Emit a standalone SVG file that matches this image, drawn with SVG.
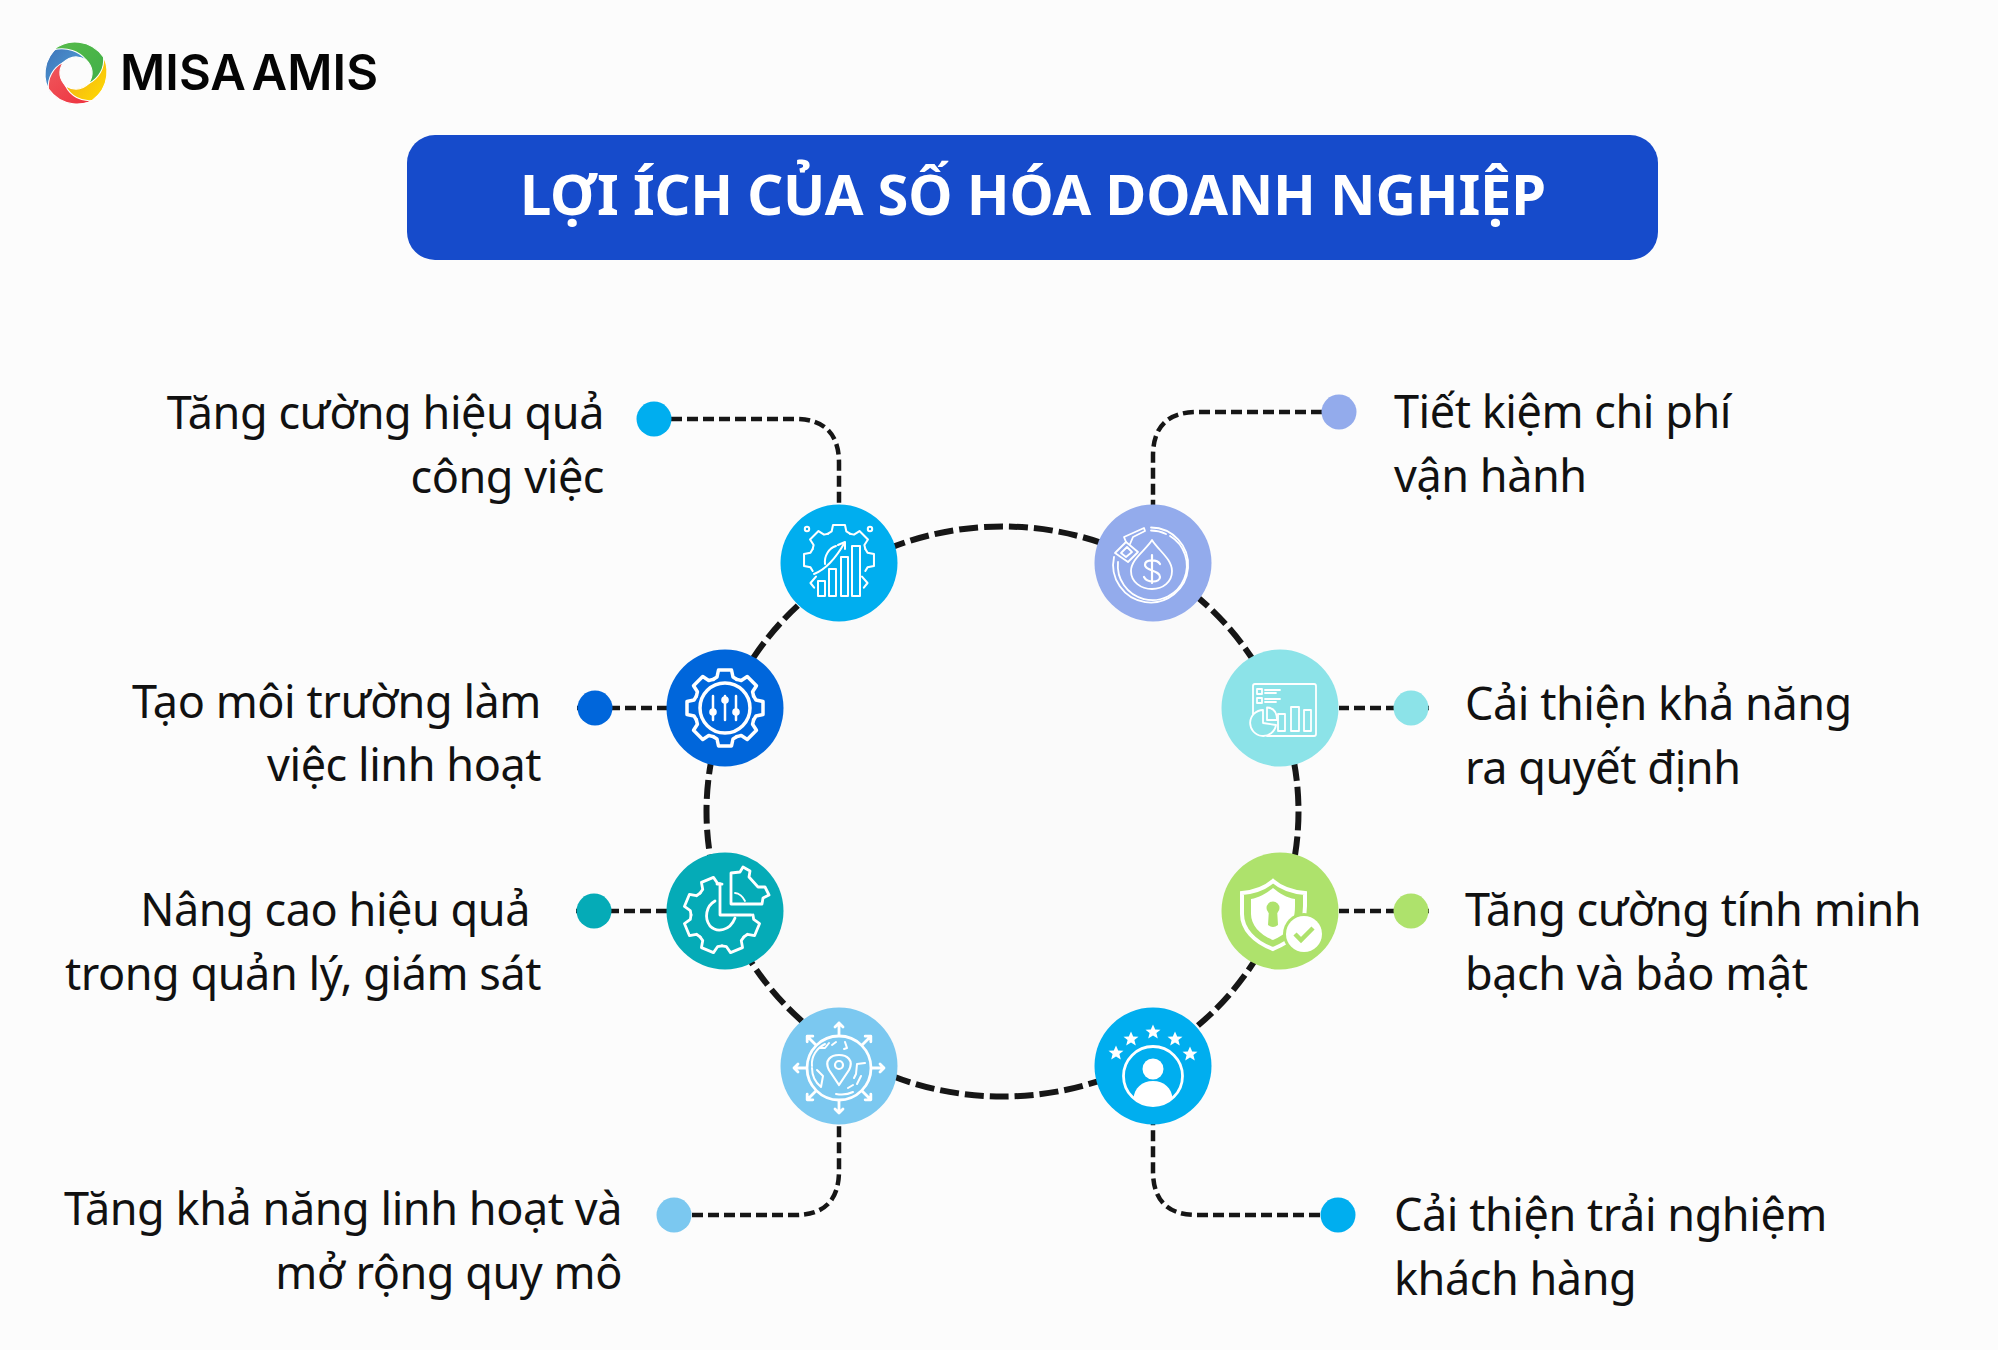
<svg xmlns="http://www.w3.org/2000/svg" width="1998" height="1350" viewBox="0 0 1998 1350">
<style>
.t{font-family:"Noto Sans","Open Sans",sans-serif;font-size:45px;letter-spacing:-.45px;fill:#111}
.e{text-anchor:end}
.c{fill:none;stroke:#161616;stroke-width:4.5;stroke-dasharray:11 5}
.i{fill:none;stroke:#fff;stroke-width:2.5;stroke-linejoin:round;stroke-linecap:round}
.f{fill:#fff;stroke:none}
</style>
<defs>
<path id="tooth" d="M-11.9-28.6L-8-31L-6.500-38H6.500L8-31L11.900-28.6"/>
<path id="blade" d="M-21-22C-8-33 14-32 26-15C27-5 22 5 12 10C17 2 16-6 9-13C3-20-8-25-21-22Z"/>
<path id="star" d="M0-7.500L2.200-2.400L7.500-2.300L3.400 1.100L4.800 6.500L0 3.500L-4.800 6.500L-3.400 1.100L-7.500-2.300L-2.200-2.400Z"/>
<path id="arrow" d="M0-33V-45M-4-41L0-45L4-41"/>
<linearGradient id="gG" x1="0" y1="0" x2="1" y2="1"><stop offset="0" stop-color="#57BB4A"/><stop offset="1" stop-color="#3FAF48"/></linearGradient>
<linearGradient id="gY" x1="1" y1="0" x2="0" y2="1"><stop offset="0" stop-color="#FFDD00"/><stop offset="1" stop-color="#EFA11E"/></linearGradient>
<linearGradient id="gR" x1="1" y1="1" x2="0" y2="0"><stop offset="0" stop-color="#EF5A5E"/><stop offset="1" stop-color="#EE2E3C"/></linearGradient>
<linearGradient id="gB" x1="0" y1="1" x2="1" y2="0"><stop offset="0" stop-color="#52ACDF"/><stop offset="1" stop-color="#3F72B8"/></linearGradient>
</defs>
<rect width="1998" height="1350" fill="#FCFCFC"/>

<g id="logo">
<g transform="translate(76 73) scale(1.06)" stroke="#fff" stroke-width="1">
<use href="#blade" fill="url(#gB)" transform="rotate(270)"/>
<use href="#blade" fill="url(#gR)" transform="rotate(180)"/>
<use href="#blade" fill="url(#gY)" transform="rotate(90)"/>
<use href="#blade" fill="url(#gG)"/>
</g>
<text x="120" y="90" font-family="Inter,'Noto Sans',sans-serif" font-size="49" font-weight="600" fill="#050505" word-spacing="-7" textLength="258">MISA AMIS</text>
</g>

<g id="title">
<rect x="407" y="135" width="1251" height="125" rx="28" fill="#164BCB"/>
<text x="520" y="215" font-family="'Noto Sans','Open Sans',sans-serif" font-size="56" font-weight="700" fill="#fff" textLength="1026">LỢI ÍCH CỦA SỐ HÓA DOANH NGHIỆP</text>
</g>

<g id="connectors">
<ellipse cx="1002.500" cy="811.500" rx="296" ry="285" fill="#FAFAFA" stroke="#161616" stroke-width="6" stroke-dasharray="19 6"/>
<path class="c" d="M671 419H795Q839 419 839 463V505"/>
<path class="c" d="M1322 412H1197Q1153 412 1153 456V505"/>
<path class="c" d="M577 708H667"/>
<path class="c" d="M1429 708H1339"/>
<path class="c" d="M576 911H667"/>
<path class="c" d="M1429 911H1339"/>
<path class="c" d="M692 1215H795Q839 1215 839 1171V1124"/>
<path class="c" d="M1320 1215H1197Q1153 1215 1153 1171V1124"/>
</g>

<g id="n1">
<circle cx="654" cy="419" r="17.500" fill="#00AEEF"/>
<text class="t e" x="604" y="429">Tăng cường hiệu quả</text>
<text class="t e" x="604" y="493">công việc</text>
<circle cx="839" cy="563" r="58.500" fill="#00AEEF"/>
<g class="i" transform="translate(839 563)" style="stroke-width:2">
<g transform="translate(0 -3) scale(.92)" style="stroke-width:2.200">
<use href="#tooth"/><use href="#tooth" transform="rotate(45)"/><use href="#tooth" transform="rotate(-45)"/><use href="#tooth" transform="rotate(90)"/><use href="#tooth" transform="rotate(-90)"/>
<path d="M25 18L31 25L27 30M-25 18L-31 25L-27 30"/>
</g>
<path d="M-21 18h7v15h-7zM-10 6h7v27h-7zM2-6h7v39h-7zM13-17h8v50h-8z"/>
<path d="M-25 11C-12 6-3-5 6-21M6-21L-1-18M6-21L6-14"/>
<path d="M-14 1C-15-7-10-15-3-17"/>
<circle cx="-32" cy="-34" r="2.200"/><circle cx="31" cy="-34" r="2.200"/>
</g>
</g>

<g id="n2">
<circle cx="1339" cy="412" r="17.500" fill="#93ABEC"/>
<text class="t" x="1394" y="428">Tiết kiệm chi phí</text>
<text class="t" x="1394" y="492">vận hành</text>
<circle cx="1153" cy="563" r="58.500" fill="#93ABEC"/>
<g class="i" transform="translate(1153 563)" style="stroke-width:1.800">
<path d="M-2-35.500A37.500 37.500 0 1 1-39-6"/>
<path d="M-2-32.500A34.500 34.500 0 0 1 13-29M17-27A34.500 34.500 0 1 1-35-1"/>
<path d="M-1-23C-7-13-22-4-22 8C-22 19-12 26-1 26C10 26 19 19 19 8C19-4 5-13-1-23Z"/>
<path d="M7 1C4-4-8-4-8 2C-8 8 7 7 7 14C7 20-6 20-9 14M-1-8V20" style="stroke-width:2.200"/>
<path d="M-38-10L-27-21L-15-11L-25-1Z"/>
<path d="M-32-10L-26-16L-21-11L-27-6Z"/>
<path d="M-27-21L-29-26L-9-35L-8-32L-20-26L-23-19"/>
</g>
</g>

<g id="n3">
<circle cx="595" cy="708" r="17.500" fill="#0066DB"/>
<text class="t e" x="541" y="718">Tạo môi trường làm</text>
<text class="t e" x="541" y="781">việc linh hoạt</text>
<circle cx="725" cy="708" r="58.500" fill="#0066DB"/>
<g class="i" transform="translate(725 708)" style="stroke-width:3.500">
<use href="#tooth"/><use href="#tooth" transform="rotate(45)"/><use href="#tooth" transform="rotate(90)"/><use href="#tooth" transform="rotate(135)"/><use href="#tooth" transform="rotate(180)"/><use href="#tooth" transform="rotate(225)"/><use href="#tooth" transform="rotate(270)"/><use href="#tooth" transform="rotate(315)"/>
<circle r="25"/>
<path d="M-12-12V12M0-12V12M11-12V12" style="stroke-width:2.500"/>
<g class="f"><circle cx="-12" cy="4" r="3.800"/><circle cy="-8" r="3.800"/><circle cx="11" cy="4" r="3.800"/></g>
</g>
</g>

<g id="n4">
<circle cx="594" cy="911" r="17.500" fill="#05ABB7"/>
<text class="t e" x="530" y="926">Nâng cao hiệu quả</text>
<text class="t e" x="541" y="990">trong quản lý, giám sát</text>
<circle cx="725" cy="911" r="58.500" fill="#05ABB7"/>
<g class="i" transform="translate(725 911)" style="stroke-width:2.800">
<g transform="translate(-3 4)">
<use href="#tooth" transform="rotate(157.500)"/><use href="#tooth" transform="rotate(112.500)"/><use href="#tooth" transform="rotate(202.500)"/><use href="#tooth" transform="rotate(247.500)"/><use href="#tooth" transform="rotate(292.500)"/><use href="#tooth" transform="rotate(337.500)"/>
<path d="M-5-31L-2-31V0H29"/>
<path d="M-7-14C-16-9-18 3-12 11C-5 18 8 16 13 3"/>
</g>
<path d="M6-7V-38L15-39L18-44L25-40L24-34L33-24L40-24L44-16L38-13L37-7Z"/>
<path d="M10-18C14-18 18-14 20-10" style="stroke-width:1.800"/>
</g>
</g>

<g id="n5">
<circle cx="674" cy="1215" r="17.500" fill="#7BC8F0"/>
<text class="t e" x="622" y="1225">Tăng khả năng linh hoạt và</text>
<text class="t e" x="622" y="1289">mở rộng quy mô</text>
<circle cx="839" cy="1066" r="58.500" fill="#7BC8F0"/>
<g class="i" transform="translate(839 1068)" style="stroke-width:2.800">
<circle r="32"/>
<use href="#arrow"/><use href="#arrow" transform="rotate(45)"/><use href="#arrow" transform="rotate(90)"/><use href="#arrow" transform="rotate(135)"/><use href="#arrow" transform="rotate(180)"/><use href="#arrow" transform="rotate(225)"/><use href="#arrow" transform="rotate(270)"/><use href="#arrow" transform="rotate(315)"/>
<path d="M-27-2C-28-12-22-20-14-24M-22 2L-16 8L-18 19C-24 14-27 8-27 0M-10-25L-14-20L-20-20M-7-23L-3-26M6-26L8-20L5-19M26-5L18-4L17 6L15 10M22 8L18 16M14 17L9 20M14 24C8 27 2 27-3 26" style="stroke-width:2"/>
<path d="M0 17L-10 2C-15-8-8-13 0-13C8-13 15-8 10 2Z" style="stroke-width:2.200"/>
<circle cy="-3" r="4" style="stroke-width:2.200"/>
</g>
</g>

<g id="n6">
<circle cx="1411" cy="708" r="17.500" fill="#8CE3E8"/>
<text class="t" x="1465" y="720">Cải thiện khả năng</text>
<text class="t" x="1465" y="784">ra quyết định</text>
<circle cx="1280" cy="708" r="58.500" fill="#8CE3E8"/>
<g class="i" transform="translate(1280 708)" style="stroke-width:1.800">
<path d="M-27 6V-22Q-27-24-25-24H34Q36-24 36-22V26Q36 28 34 28H-13"/>
<path d="M-23-19h5v5h-5zM-23-10h5v5h-5zM-15-18H0M-15-15H-4M-15-9H0M-15-6H-4"/>
<path d="M-2 6h7v17h-7zM11-1h8v24h-8zM24 2h7v21h-7z"/>
<path d="M-17 2A13 13 0 1 0-4 17L-17 15Z"/>
<path d="M-13-0.500V12H-3Q-3-0-13-0.500Z"/>
</g>
</g>

<g id="n7">
<circle cx="1411" cy="911" r="17.500" fill="#AEE26C"/>
<text class="t" x="1465" y="926">Tăng cường tính minh</text>
<text class="t" x="1465" y="990">bạch và bảo mật</text>
<circle cx="1280" cy="911" r="58.500" fill="#AEE26C"/>
<g transform="translate(1280 911)">
<path d="M-7-30C-15-23-27-19-38-18V3C-38 18-26 31-7 38C10 31 25 20 25-5V-18C13-19 1-23-7-30Z" fill="none" stroke="#fff" stroke-width="4"/>
<path d="M-7-23C-13-18-21-13-29-12V3C-29 14-20 24-7 29C5 24 15 16 15-5V-12C7-13-1-18-7-23Z" fill="#fff"/>
<circle cx="-7" cy="-3" r="6.500" fill="#AEE26C"/>
<path d="M-11-2H-3L-2 14Q-7 18-12 14Z" fill="#AEE26C"/>
<circle cx="24" cy="23" r="21" fill="#AEE26C"/>
<circle cx="24" cy="23" r="18" fill="#fff"/>
<path d="M15 23L21 29L33 17" fill="none" stroke="#AEE26C" stroke-width="4.500"/>
</g>
</g>

<g id="n8">
<circle cx="1338" cy="1215" r="17.500" fill="#00AEEF"/>
<text class="t" x="1394" y="1231">Cải thiện trải nghiệm</text>
<text class="t" x="1394" y="1295">khách hàng</text>
<circle cx="1153" cy="1066" r="58.500" fill="#00AEEF"/>
<g transform="translate(1153 1066)">
<circle cy="10" r="29.500" fill="none" stroke="#fff" stroke-width="2.800"/>
<circle cy="3" r="10.500" fill="#fff"/>
<path d="M-19.500 33C-19 22-11 15 0 15C11 15 19 22 19.500 33C12 40-12 40-19.500 33Z" fill="#fff"/>
<g class="f">
<use href="#star" x="-37" y="-13"/><use href="#star" x="-22" y="-27"/><use href="#star" y="-34"/><use href="#star" x="22" y="-27"/><use href="#star" x="37" y="-12"/>
</g>
</g>
</g>
</svg>
